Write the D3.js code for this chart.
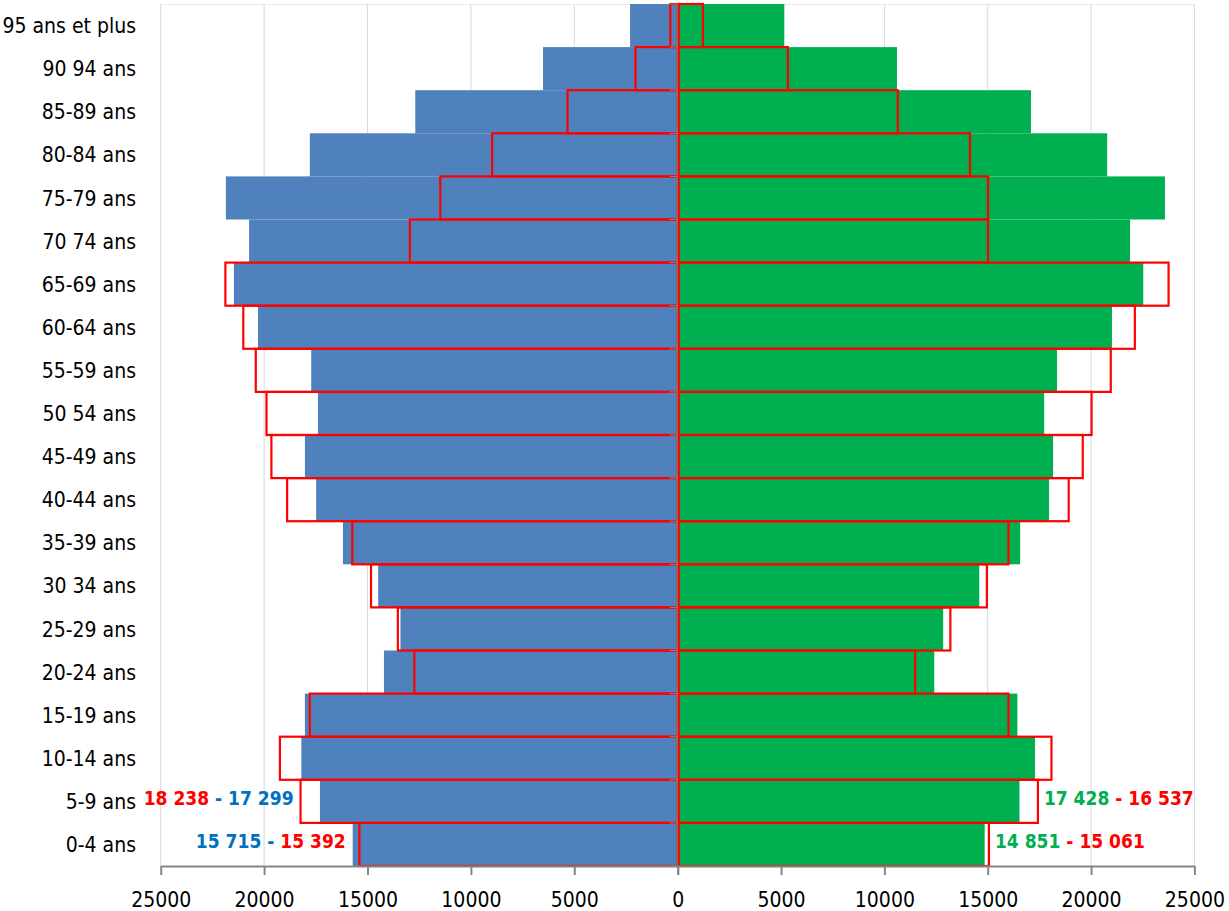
<!DOCTYPE html>
<html>
<head>
<meta charset="utf-8">
<script src="https://cdn.jsdelivr.net/npm/d3@7/dist/d3.min.js"></script>
<style>
  html, body { margin: 0; padding: 0; background: #fff; }
  svg { display: block; }
  .lbl { font-family: "DejaVu Sans Condensed", "DejaVu Sans", "Liberation Sans", sans-serif; font-stretch: condensed; }
</style>
</head>
<body>
<svg id="chart" width="1229" height="911"></svg>
<script>
// ---- DATA (bottom to top) ----
const categories = ["0-4 ans","5-9 ans","10-14 ans","15-19 ans","20-24 ans","25-29 ans","30 34 ans","35-39 ans","40-44 ans","45-49 ans","50 54 ans","55-59 ans","60-64 ans","65-69 ans","70 74 ans","75-79 ans","80-84 ans","85-89 ans","90 94 ans","95 ans et plus"];
const blueValues  = [15715,17299,18200,18026,14204,13406,14484,16188,17484,18026,17397,17722,20295,21460,20726,21848,17789,12690,6512,2303];
const redLeft     = [15392,18238,19235,17789,12734,13532,14829,15737,18887,19647,19884,20402,21006,21872,12951,11481,8975,5327,2042,358];
const greenValues = [14851,16537,17286,16434,12414,12845,14591,16570,17968,18162,17731,18355,21011,22526,21887,23575,20779,17093,10610,5157];
const redRight    = [15061,17428,18084,16004,11485,13193,14959,16004,18917,19598,20024,20953,22119,23750,15017,15017,14141,10648,5332,1219];
const tickValues  = [0,5000,10000,15000,20000,25000];
const annotations = [
  {side:"left",  cat:"5-9 ans", parts:[["18 238","#FF0000"],[" - ","#0070C0"],["17 299","#0070C0"]]},
  {side:"left",  cat:"0-4 ans", parts:[["15 715","#0070C0"],[" - ","#0070C0"],["15 392","#FF0000"]]},
  {side:"right", cat:"5-9 ans", parts:[["17 428","#00B050"],[" - ","#FF0000"],["16 537","#FF0000"]]},
  {side:"right", cat:"0-4 ans", parts:[["14 851","#00B050"],[" - ","#FF0000"],["15 061","#FF0000"]]}
];

// ---- LAYOUT ----
const svg = d3.select("#chart");
const pTop = 4, pBottom = 866, pLeft = 160.7, pMid = 677.7, pRight = 1194.4;
const xL = d3.scaleLinear().domain([25000, 0]).range([pLeft, pMid]);
const xR = d3.scaleLinear().domain([0, 25000]).range([pMid, pRight]);
const y = d3.scaleBand().domain(categories.slice().reverse()).range([pTop, pBottom]).padding(0);

const rows = categories.map((c,i)=>({cat:c, blue:blueValues[i], rl:redLeft[i], green:greenValues[i], rr:redRight[i]}));

// gridlines
const grid = svg.append("g");
tickValues.forEach(t => {
  if (t !== 0) {
    grid.append("line").attr("x1", xL(t)).attr("x2", xL(t)).attr("y1", pTop).attr("y2", pBottom).attr("stroke", "#D9D9D9").attr("stroke-width", 1);
    grid.append("line").attr("x1", xR(t)).attr("x2", xR(t)).attr("y1", pTop).attr("y2", pBottom).attr("stroke", "#D9D9D9").attr("stroke-width", 1);
  }
});
grid.append("line").attr("x1", pLeft).attr("x2", pRight).attr("y1", pTop + 0.5).attr("y2", pTop + 0.5)
  .attr("stroke", "#D9D9D9").attr("stroke-dasharray", "2,2");

// bars
svg.append("g").selectAll("rect").data(rows).join("rect")
  .attr("x", d => xL(d.blue)).attr("width", d => pMid - xL(d.blue))
  .attr("y", d => y(d.cat)).attr("height", y.bandwidth())
  .attr("fill", "#4F81BD");
svg.append("g").selectAll("rect").data(rows).join("rect")
  .attr("x", pMid + 1).attr("width", d => xR(d.green) - pMid - 1)
  .attr("y", d => y(d.cat)).attr("height", y.bandwidth())
  .attr("fill", "#00B050");

// red outlines
svg.append("g").selectAll("rect").data(rows).join("rect")
  .attr("x", d => xL(d.rl)).attr("width", d => pMid - xL(d.rl))
  .attr("y", d => y(d.cat)).attr("height", y.bandwidth())
  .attr("fill", "none").attr("stroke", "#FF0000").attr("stroke-width", 2.2);
svg.append("g").selectAll("rect").data(rows).join("rect")
  .attr("x", pMid + 1).attr("width", d => xR(d.rr) - pMid - 1)
  .attr("y", d => y(d.cat)).attr("height", y.bandwidth())
  .attr("fill", "none").attr("stroke", "#FF0000").attr("stroke-width", 2.2);

// category axis ticks (grey, at center)
const catG = svg.append("g");
d3.range(categories.length + 1).forEach(i => {
  const yy = pTop + i * y.step();
  catG.append("line").attr("x1", pMid - 8).attr("x2", pMid).attr("y1", yy).attr("y2", yy).attr("stroke", "#868686").attr("stroke-width", 1);
});
catG.append("line").attr("x1", pMid - 0.5).attr("x2", pMid - 0.5).attr("y1", pTop).attr("y2", pBottom).attr("stroke", "#868686").attr("stroke-width", 1);

// category labels
svg.append("g").selectAll("text").data(categories).join("text")
  .attr("class", "lbl")
  .attr("x", 136).attr("y", d => y(d) + y.bandwidth()/2)
  .attr("dy", "0.36em").attr("text-anchor", "end")
  .attr("font-size", 21).attr("fill", "#000")
  .text(d => d);

// bottom axes
function styleAxis(g) {
  g.select(".domain").attr("stroke", "#868686").attr("stroke-width", 2);
  g.selectAll(".tick line").attr("stroke", "#868686").attr("stroke-width", 2);
  g.selectAll(".tick text").attr("class", "lbl").attr("font-size", 21).attr("fill", "#000").attr("dy", "0.71em");
}
svg.append("g").attr("transform", `translate(0,${pBottom})`)
  .call(d3.axisBottom(xL).tickValues(tickValues).tickFormat(d => String(d)).tickSize(9).tickSizeOuter(0).tickPadding(17))
  .call(styleAxis);
svg.append("g").attr("transform", `translate(0,${pBottom})`)
  .call(d3.axisBottom(xR).tickValues(tickValues).tickFormat(d => String(d)).tickSize(9).tickSizeOuter(0).tickPadding(17))
  .call(styleAxis)
  .call(g => g.selectAll(".tick").filter(d => d === 0).select("text").remove());

// annotations
annotations.forEach(a => {
  const i = categories.indexOf(a.cat);
  const r = rows[i];
  const yc = y(a.cat) + y.bandwidth()/2 - 3;
  let x, anchor;
  if (a.side === "left") {
    x = xL(Math.max(r.blue, r.rl)) - 7; anchor = "end";
  } else {
    x = xR(Math.max(r.green, r.rr)) + 6; anchor = "start";
  }
  const t = svg.append("text").attr("class", "lbl")
    .attr("x", x).attr("y", yc).attr("dy", "0.36em")
    .attr("text-anchor", anchor).attr("font-size", 19).attr("font-weight", "bold");
  a.parts.forEach(p => t.append("tspan").attr("fill", p[1]).text(p[0]));
});
</script>
</body>
</html>
